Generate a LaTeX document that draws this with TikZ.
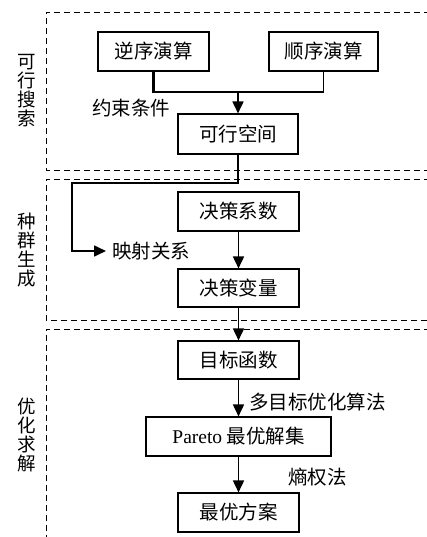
\documentclass[tikz,border=0pt]{standalone}
\usepackage{fontspec}
\setmainfont{Liberation Serif}
\newfontfamily\cjk{Noto Sans CJK SC}
\usetikzlibrary{arrows.meta}
\begin{document}
\begin{tikzpicture}[x=1pt,y=-1pt,
  box/.style={draw,line width=1.1pt,minimum width=121pt,minimum height=39pt,inner sep=0pt,
    font=\cjk\fontsize{19.5}{21}\selectfont},
  lbl/.style={inner sep=0pt,font=\cjk\fontsize{19.5}{21}\selectfont},
  side/.style={inner sep=0pt,align=center,font=\cjk\fontsize{18.5}{19}\selectfont},
  frame/.style={dashed,dash pattern=on 6pt off 4pt,line width=0.9pt},
  arr/.style={line width=1.7pt,-{Triangle[length=12pt,width=11pt]}}]
\useasboundingbox (0,0) rectangle (427,537);
% dashed frames
\draw[frame] (430,12) -- (46,12) -- (46,170) -- (430,170);
\draw[frame] (430,179) -- (46,179) -- (46,320) -- (430,320);
\draw[frame] (430,329) -- (46,329) -- (46,540);
% side labels
\node[side] (s1) at (27,91) {可\\行\\搜\\索};
\node[side] (s2) at (27,250) {种\\群\\生\\成};
\node[side] (s3) at (27,435) {优\\化\\求\\解};
% boxes
\node[box,minimum width=111pt] (ni) at (153.5,51.5) {逆序演算};
\node[box,minimum width=109pt] (shun) at (323.5,51.5) {顺序演算};
\node[box,minimum width=120pt,minimum height=40pt] (kx) at (238,134) {可行空间};
\node[box] (xs) at (238.5,211.5) {决策系数};
\node[box,minimum height=38pt] (bl) at (238.5,288) {决策变量};
\node[box,minimum height=38pt] (mb) at (238.5,360) {目标函数};
\node[box,minimum width=185pt] (pa) at (238.5,436.5) {{\rmfamily Pareto} 最优解集};
\node[box] (zy) at (238.5,512.5) {最优方案};
% labels
\node[lbl] (ys) at (131,108) {约束条件};
\node[lbl,anchor=west] (ys2) at (112,251) {映射关系};
\node[lbl,anchor=west] (dm) at (249,402) {多目标优化算法};
\node[lbl,anchor=west] (sq) at (288,477) {熵权法};
% connectors
\coordinate (m) at (238,92);
\draw[line width=2.4pt] (ni.south) |- (m);
\draw[line width=1.1pt] (shun.south) |- (m);
\draw[arr] (m) -- (kx.north);
\coordinate (c1) at (238,183);
\coordinate (c2) at (72,183);
\coordinate (c3) at (72,251);
\coordinate (c4) at (106,251);
\draw[arr] (kx.south) -- (c1) -- (c2) -- (c3) -- (c4);
\draw[arr] (xs) -- (bl);
\draw[arr] (bl) -- (mb);
\draw[arr] (mb) -- (pa);
\draw[arr] (pa) -- (zy);
\end{tikzpicture}
\end{document}
